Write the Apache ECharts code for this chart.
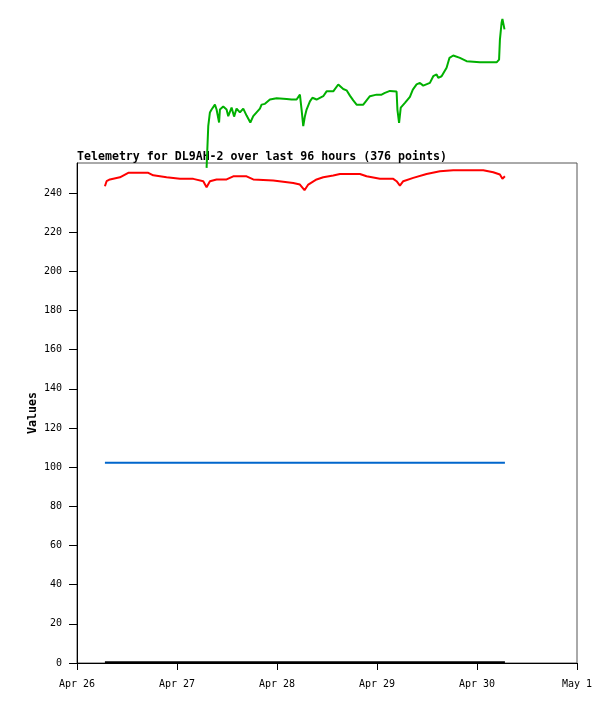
<!DOCTYPE html>
<html>
<head>
<meta charset="utf-8">
<script src="https://cdn.jsdelivr.net/npm/echarts@6/dist/echarts.min.js"></script>
<style>html,body{margin:0;padding:0;background:#fff}#c{width:615px;height:704px}</style>
</head>
<body>
<div id="c"></div>
<script>
// hours since Apr 26 00:00
const xTickLabels = ['Apr 26', 'Apr 27', 'Apr 28', 'Apr 29', 'Apr 30', 'May 1'];

const redT = [6.7,7.1,7.9,10.3,12.3,17.1,18.3,21.5,24.7,27.9,30.3,31.1,31.9,33.5,35.9,37.5,40.7,42.3,47.1,51.9,53.5,54.6,55.5,57.5,59.1,61.5,63.1,67.9,69.5,72.7,75.9,76.7,77.5,78.3,80.7,83.9,87.1,90.3,97.5,99.9,101.5,102.1,102.7];
const redV = [243.4,246.0,246.9,248.0,250.3,250.3,249.0,248.0,247.2,247.2,246.0,242.9,246.0,246.9,246.9,248.5,248.5,246.9,246.4,245.1,244.3,241.4,244.3,246.9,248.0,248.9,249.7,249.7,248.5,247.3,247.2,246.0,243.8,246.0,247.7,249.7,251.1,251.6,251.6,250.6,249.4,247.3,248.5];

const greenT = [31.1,31.5,31.9,32.3,33.1,33.5,34.1,34.3,35.1,35.9,36.3,37.1,37.7,38.3,39.1,39.9,40.7,41.6,42.3,43.9,44.3,45.1,46.3,47.9,50.3,51.5,52.7,53.5,53.9,54.3,54.7,55.1,55.9,56.5,57.5,59.1,59.9,61.5,62.7,63.9,64.7,65.5,66.3,67.1,68.7,69.5,70.3,71.9,73.1,73.9,75.1,76.7,76.9,77.3,77.7,78.7,79.9,80.6,81.5,82.3,83.1,84.7,85.5,86.3,86.7,87.5,88.7,89.4,90.3,91.9,93.5,96.7,100.7,101.3,101.5,101.9,102.1,102.6];
const greenV = [252.8,274.1,281.1,282.6,285.1,282.6,276.0,282.6,284.1,282.6,279.2,283.6,279.0,283.1,281.1,283.1,279.5,276.0,279.2,283.1,285.1,285.5,287.7,288.4,288.0,287.7,287.7,290.2,282.6,274.1,279.2,282.6,286.8,288.6,287.7,289.4,291.9,291.9,295.4,293.1,292.4,289.7,287.3,285.1,285.1,287.3,289.4,290.2,290.2,291.1,292.1,291.8,282.6,275.8,283.6,286.0,289.1,292.8,295.4,296.2,294.8,296.2,299.6,300.5,298.8,299.6,303.9,309.0,310.2,309.0,307.3,306.7,306.7,308.1,318.3,326.9,328.9,323.5];

const blueT = [6.7,12.9,13.0,13.1,28.2,28.3,28.5,39.7,39.8,40.0,102.7];
const blueV = [102.3,102.3,101.6,102.3,102.3,101.4,102.3,102.3,101.4,102.3,102.3];

const blackT = [6.7,102.7];
const blackV = [0.3,0.3];

const pair = (t, v) => t.map((x, i) => [x, v[i]]);

const chart = echarts.init(document.getElementById('c'));
const mono = 'DejaVu Sans Mono';
chart.setOption({
  animation: false,
  backgroundColor: '#fff',
  title: {
    text: 'Telemetry for DL9AH-2 over last 96 hours (376 points)',
    left: 72, top: 146, z: 0,
    textStyle: { fontFamily: mono, fontSize: 11.6, fontWeight: 'bold', color: '#000' }
  },
  grid: { left: 77, top: 163, width: 500, height: 500, show: true, borderColor: '#555', borderWidth: 1, backgroundColor: 'transparent' },
  xAxis: {
    type: 'value', min: 0, max: 120, interval: 24,
    axisLine: { lineStyle: { color: '#000', width: 1 } },
    axisTick: { length: 7, lineStyle: { color: '#000' } },
    splitLine: { show: false },
    axisLabel: {
      margin: 16, fontFamily: mono, fontSize: 10, color: '#000',
      formatter: v => xTickLabels[Math.round(v / 24)]
    }
  },
  yAxis: {
    type: 'value', min: 0, max: 255.3, interval: 20,
    name: 'Values', nameLocation: 'middle', nameRotate: 90, nameGap: 38, nameMoveOverlap: false,
    nameTextStyle: { fontFamily: mono, fontSize: 11.6, fontWeight: 'bold', color: '#000' },
    axisLine: { show: true, lineStyle: { color: '#000', width: 1 } },
    axisTick: { show: true, length: 8, lineStyle: { color: '#000' } },
    splitLine: { show: false },
    axisLabel: { showMaxLabel: false, margin: 15, fontFamily: mono, fontSize: 10, color: '#000' }
  },
  series: [
    { type: 'line', data: pair(blackT, blackV), showSymbol: false, lineStyle: { color: '#000', width: 2.5 }, clip: false, z: 3 },
    { type: 'line', data: pair(blueT, blueV), showSymbol: false, lineStyle: { color: '#0066cc', width: 2 }, clip: false, z: 3 },
    { type: 'line', data: pair(redT, redV), showSymbol: false, lineStyle: { color: '#ff0000', width: 2 }, clip: false, z: 3 },
    { type: 'line', data: pair(greenT, greenV), showSymbol: false, lineStyle: { color: '#00b000', width: 2 }, clip: false, z: 3 }
  ]
});
</script>
</body>
</html>
